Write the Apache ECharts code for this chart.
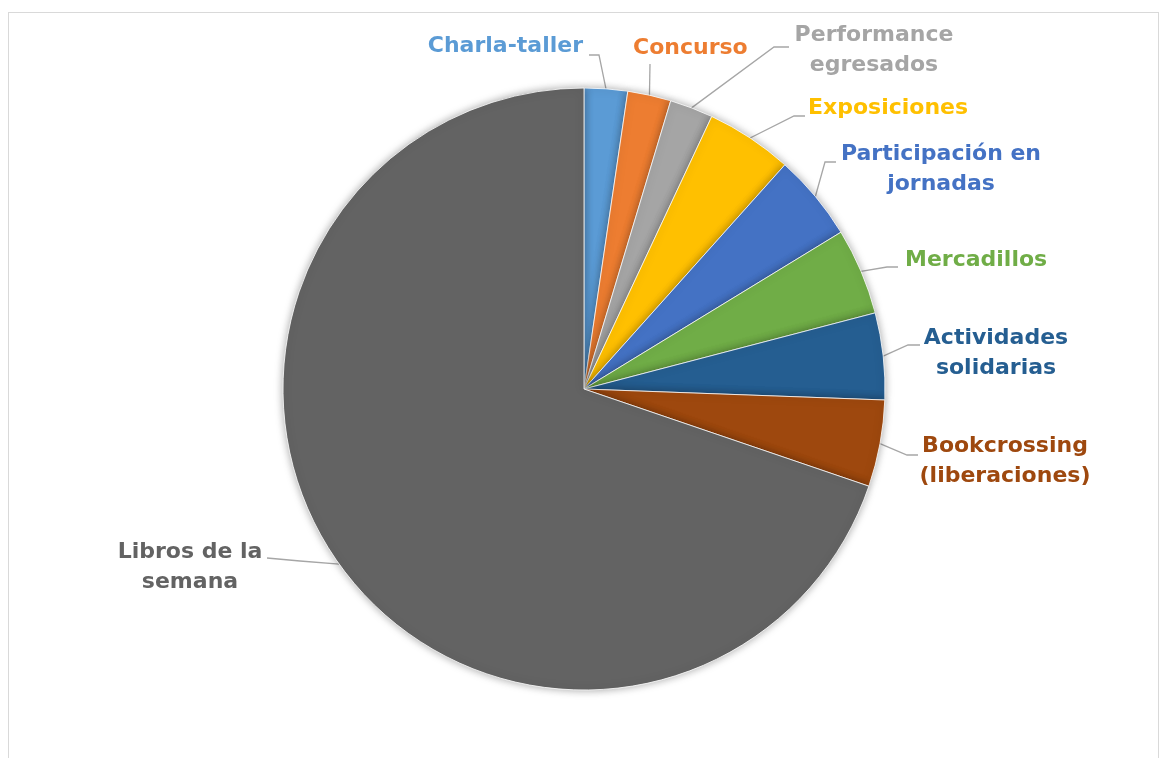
<!DOCTYPE html>
<html>
<head>
<meta charset="utf-8">
<script src="https://cdn.jsdelivr.net/npm/echarts@6/dist/echarts.min.js"></script>
<style>
  html, body { margin: 0; padding: 0; background: #fff; overflow: hidden; }
  #frame { position: absolute; left: 8px; top: 12px; width: 1149px; height: 800px; border: 1px solid #d9d9d9; }
  #main { position: absolute; left: 0; top: 0; width: 1159px; height: 758px; }
</style>
</head>
<body>
<div id="frame"></div>
<div id="main"></div>
<script>
// datos del gráfico (actividades)
var categories = [
  'Charla-taller', 'Concurso', 'Performance\negresados', 'Exposiciones',
  'Participación en\njornadas', 'Mercadillos', 'Actividades\nsolidarias',
  'Bookcrossing\n(liberaciones)', 'Libros de la\nsemana'
];
var values = [1, 1, 1, 2, 2, 2, 2, 2, 30];
var colors = ['#5B9BD5', '#ED7D31', '#A5A5A5', '#FFC000', '#4472C4', '#70AD47', '#255E91', '#9E480E', '#636363'];

// posición de cada etiqueta: [x, y, align, codoX, codoY, finX, finY]
var labelSpots = [
  [583, 46, 'right', 599, 55, 589, 55],
  [633, 48, 'left', 650, 64, 650, 64],
  [874, 50, 'center', 774, 47, 789, 47],
  [808, 108, 'left', 794, 116, 805, 116],
  [941, 169, 'center', 825, 162, 836, 162],
  [905, 260, 'left', 887, 267, 898, 267],
  [996, 353, 'center', 908, 345, 920, 345],
  [1005, 461, 'center', 907, 455, 918, 455],
  [190, 567, 'center', 300, 561, 267, 558]
];

var myChart = echarts.init(document.getElementById('main'));

var data = values.map(function (v, i) {
  return {
    name: categories[i],
    value: v,
    itemStyle: { color: colors[i] },
    label: { color: colors[i] }
  };
});

var option = {
  animation: false,
  series: [{
    type: 'pie',
    center: [584, 389],
    radius: 301,
    startAngle: 90,
    clockwise: true,
    avoidLabelOverlap: false,
    itemStyle: {
      borderColor: '#fff',
      borderWidth: 0.8,
      shadowBlur: 9,
      shadowColor: 'rgba(0,0,0,0.35)'
    },
    label: {
      show: true,
      position: 'outside',
      fontFamily: 'DejaVu Sans',
      fontWeight: 'bold',
      fontSize: 22,
      lineHeight: 30
    },
    labelLine: {
      show: true,
      smooth: false,
      lineStyle: { color: '#a6a6a6', width: 1.3 }
    },
    labelLayout: function (params) {
      var s = labelSpots[params.dataIndex];
      var p0 = params.labelLinePoints ? params.labelLinePoints[0] : [s[3], s[4]];
      return {
        x: s[0],
        y: s[1],
        align: s[2],
        verticalAlign: 'middle',
        labelLinePoints: [p0, [s[3], s[4]], [s[5], s[6]]]
      };
    },
    data: data
  }]
};

myChart.setOption(option);
</script>
</body>
</html>
